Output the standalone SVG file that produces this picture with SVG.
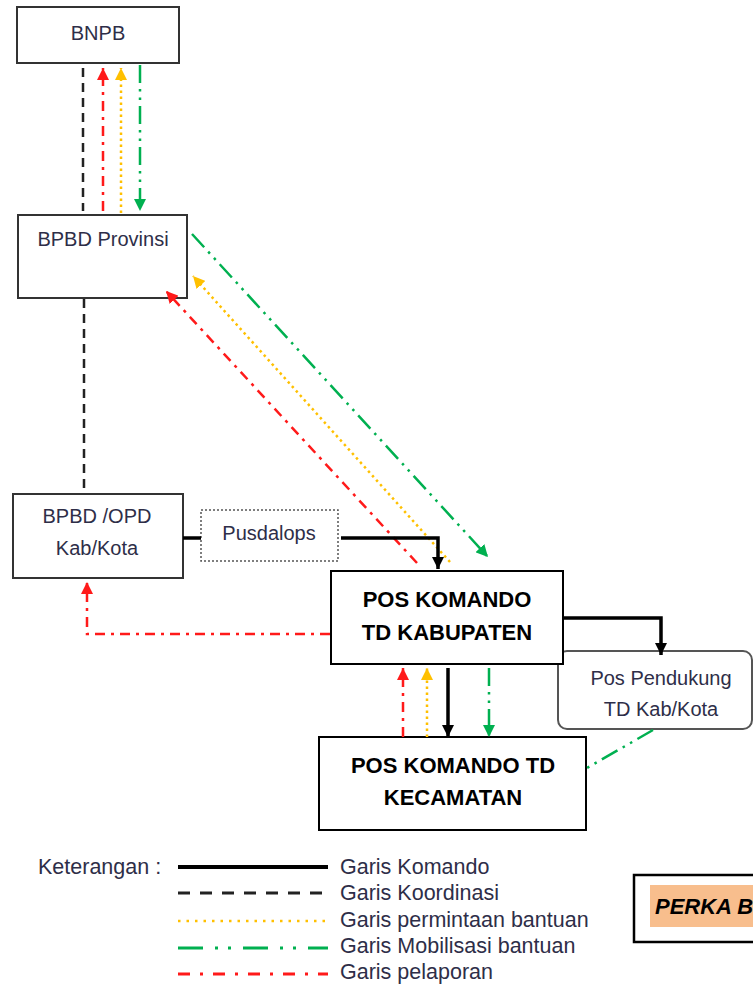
<svg xmlns="http://www.w3.org/2000/svg" width="753" height="988" viewBox="0 0 753 988">
<style>
text{font-family:"Liberation Sans",Arial,sans-serif;}
.lbl{font-size:20px;fill:#2e2e48;text-anchor:middle;}
.big{font-size:22px;font-weight:bold;fill:#000;text-anchor:middle;}
.leg{font-size:21.5px;fill:#2e2e48;}
.box{fill:#fff;stroke:#333;stroke-width:2;}
.boxb{fill:#fff;stroke:#000;stroke-width:2;}
.cmd{fill:none;stroke:#000;stroke-width:3.5;}
.koo{fill:none;stroke:#222;stroke-width:2.5;stroke-dasharray:9 6;}
.red{fill:none;stroke:#ff1a1a;stroke-width:2.5;stroke-dasharray:10 6 3 6;}
.yel{fill:none;stroke:#ffc000;stroke-width:2.5;stroke-dasharray:2.5 3.5;}
.grn{fill:none;stroke:#00b050;stroke-width:2.5;stroke-dasharray:18 6 2.5 6 2.5 6;}
</style>
<defs>
<marker id="aK" viewBox="0 0 10 10" refX="10" refY="5" markerWidth="12" markerHeight="12" markerUnits="userSpaceOnUse" orient="auto"><path d="M0,0 L10,5 L0,10 z" fill="#000"/></marker>
<marker id="aR" viewBox="0 0 10 10" refX="10" refY="5" markerWidth="12" markerHeight="12" markerUnits="userSpaceOnUse" orient="auto"><path d="M0,0 L10,5 L0,10 z" fill="#ff1a1a"/></marker>
<marker id="aY" viewBox="0 0 10 10" refX="10" refY="5" markerWidth="12" markerHeight="12" markerUnits="userSpaceOnUse" orient="auto"><path d="M0,0 L10,5 L0,10 z" fill="#ffc000"/></marker>
<marker id="aG" viewBox="0 0 10 10" refX="10" refY="5" markerWidth="12" markerHeight="12" markerUnits="userSpaceOnUse" orient="auto"><path d="M0,0 L10,5 L0,10 z" fill="#00b050"/></marker>
</defs>
<rect width="753" height="988" fill="#fff"/>

<g id="bnpb">
<rect class="box" x="17" y="7" width="162" height="56"/>
<text class="lbl" x="98" y="40" font-size="19">BNPB</text>
</g>
<g id="bpbd-provinsi">
<rect class="box" x="18" y="215" width="169" height="83"/>
<text class="lbl" x="103" y="246">BPBD Provinsi</text>
</g>
<g id="bpbd-kabkota">
<rect class="box" x="13" y="494" width="170" height="84"/>
<text class="lbl" x="97" y="523">BPBD /OPD</text>
<text class="lbl" x="97" y="555">Kab/Kota</text>
</g>
<g id="pusdalops">
<rect x="201" y="510" width="137" height="51" fill="#fff" stroke="#555" stroke-width="1.5" stroke-dasharray="2 2"/>
<text class="lbl" x="269" y="540">Pusdalops</text>
</g>
<g id="pos-pendukung">
<rect x="558" y="651" width="194" height="78" rx="9" fill="#fff" stroke="#555" stroke-width="2"/>
<text class="lbl" x="661" y="685">Pos Pendukung</text>
<text class="lbl" x="661" y="716">TD Kab/Kota</text>
</g>
<g id="pos-kabupaten">
<rect class="boxb" x="331" y="571" width="232" height="93"/>
<text class="big" x="447" y="607">POS KOMANDO</text>
<text class="big" x="447" y="640">TD KABUPATEN</text>
</g>
<g id="pos-kecamatan">
<rect class="boxb" x="319" y="737" width="267" height="93"/>
<text class="big" x="453" y="773">POS KOMANDO TD</text>
<text class="big" x="453" y="805">KECAMATAN</text>
</g>

<g id="connectors">
<line class="koo" x1="83" y1="68" x2="83" y2="211"/>
<line class="red" x1="103" y1="211" x2="103" y2="68" marker-end="url(#aR)"/>
<line class="yel" x1="121" y1="213" x2="121" y2="68" marker-end="url(#aY)"/>
<line class="grn" x1="140" y1="65" x2="140" y2="211" marker-end="url(#aG)"/>
<line class="koo" x1="84" y1="299" x2="84" y2="493"/>
<line class="grn" x1="192" y1="234" x2="488" y2="557" marker-end="url(#aG)"/>
<line class="yel" x1="450" y1="562" x2="193" y2="276" marker-end="url(#aY)"/>
<line class="red" x1="417" y1="563" x2="166" y2="291" marker-end="url(#aR)"/>
<line class="cmd" x1="183" y1="538" x2="201" y2="538"/>
<path class="cmd" d="M341,538 H438 V569" marker-end="url(#aK)"/>
<path class="cmd" d="M563,618 H661 V655" marker-end="url(#aK)"/>
<line class="cmd" x1="448" y1="668" x2="448" y2="737" marker-end="url(#aK)"/>
<path class="red" d="M330,634 H87 V582" marker-end="url(#aR)"/>
<line class="red" x1="403" y1="737" x2="403" y2="668" marker-end="url(#aR)"/>
<line class="yel" x1="427" y1="737" x2="427" y2="668" marker-end="url(#aY)"/>
<line class="grn" x1="489" y1="668" x2="489" y2="737" marker-end="url(#aG)"/>
<line class="grn" x1="653" y1="730" x2="587" y2="768"/>
</g>

<g id="legend">
<text class="leg" x="38" y="874">Keterangan :</text>
<line x1="178" y1="867" x2="328" y2="867" stroke="#000" stroke-width="4"/>
<line x1="178" y1="893" x2="328" y2="893" stroke="#222" stroke-width="3" stroke-dasharray="12 10"/>
<line x1="178" y1="921" x2="328" y2="921" stroke="#ffc000" stroke-width="2.5" stroke-dasharray="2.5 6"/>
<line x1="178" y1="948" x2="328" y2="948" stroke="#00b050" stroke-width="3" stroke-dasharray="25 12 3 10 3 12"/>
<line x1="178" y1="974" x2="328" y2="974" stroke="#ff1a1a" stroke-width="3" stroke-dasharray="12 10 3 10"/>
<text class="leg" x="340" y="874">Garis Komando</text>
<text class="leg" x="340" y="900">Garis Koordinasi</text>
<text class="leg" x="340" y="927">Garis permintaan bantuan</text>
<text class="leg" x="340" y="953">Garis Mobilisasi bantuan</text>
<text class="leg" x="340" y="979">Garis pelaporan</text>
</g>

<g id="perka">
<rect x="634" y="875" width="125" height="67" fill="#fff" stroke="#000" stroke-width="2.5"/>
<rect x="650" y="885" width="103" height="42" fill="#f8be8d"/>
<text x="655" y="914" font-size="22" font-weight="bold" font-style="italic" fill="#000">PERKA B</text>
</g>
</svg>
